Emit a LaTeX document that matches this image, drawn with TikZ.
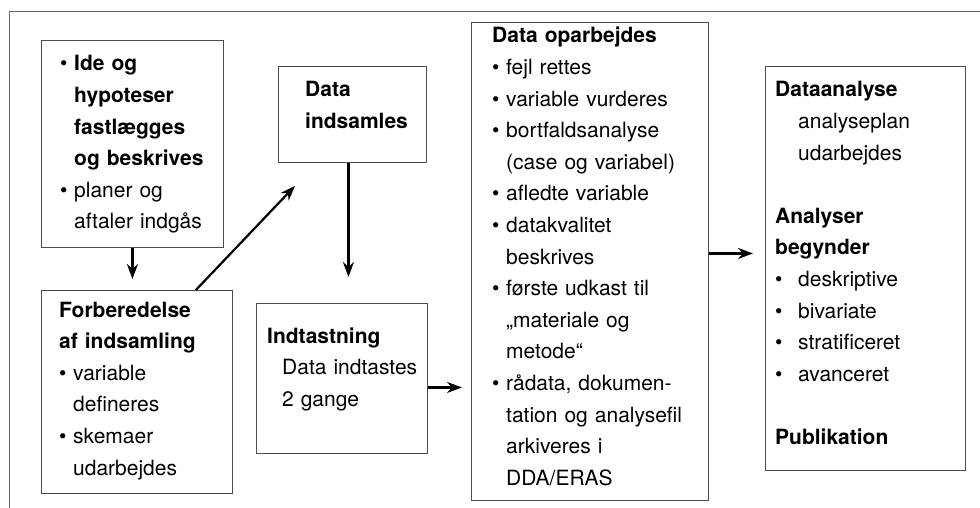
\documentclass[tikz,border=0pt]{standalone}
\usepackage{fontspec}
\setmainfont{TeX Gyre Heros}
\usetikzlibrary{arrows.meta,positioning,calc}

\newcommand{\bul}{\makebox[14pt][l]{•}}
\newcommand{\gap}{\hspace*{14pt}}

\begin{document}
\begin{tikzpicture}[
  x=1pt, y=-1pt,
  box/.style={draw=black!70, line width=0.9pt, anchor=north west, inner sep=0pt},
  txt/.style={anchor=base west, inner sep=0pt, text width=235pt, align=left,
    font=\fontsize{21}{31.6}\selectfont},
  flow/.style={line width=2.2pt, -{Stealth[length=15pt,width=11pt]}}
  ]
  \useasboundingbox (0,0) rectangle (980,508);
  % outer frame
  \draw[black!60, line width=0.9pt] (9,508) -- (9,11) -- (980,11);

  % boxes
  \node[box, minimum width=182pt, minimum height=207pt] (idea) at (41,40) {};
  \node[box, minimum width=191pt, minimum height=203pt] (prep) at (41,290) {};
  \node[box, minimum width=148pt, minimum height=96pt] (collect) at (278,66) {};
  \node[box, minimum width=171pt, minimum height=150pt] (entry) at (256,303) {};
  \node[box, minimum width=237pt, minimum height=478pt] (process) at (471,22) {};
  \node[box, minimum width=200pt, minimum height=404pt] (analysis) at (765,66) {};

  % texts
  \node[txt] (ideaT) at ([shift={(19,31)}]idea.north west)
    {\bul\textbf{Ide og}\\
     \gap\textbf{hypoteser}\\
     \gap\textbf{fastlægges}\\
     \gap\textbf{og beskrives}\\
     \bul planer og\\
     \gap aftaler indgås};
  \node[txt] (prepT) at ([shift={(18,27)}]prep.north west)
    {\textbf{Forberedelse}\\
     \textbf{af indsamling}\\
     \bul variable\\
     \gap defineres\\
     \bul skemaer\\
     \gap udarbejdes};
  \node[txt] (collectT) at ([shift={(27,31)}]collect.north west)
    {\textbf{Data}\\
     \textbf{indsamles}};
  \node[txt] (entryT) at ([shift={(11,40)}]entry.north west)
    {\textbf{Indtastning}\\
     \hspace*{15pt}Data indtastes\\
     \hspace*{15pt}2 gange};
  \node[txt] (processT) at ([shift={(21,21)}]process.north west)
    {\textbf{Data oparbejdes}\\
     \bul fejl rettes\\
     \bul variable vurderes\\
     \bul bortfaldsanalyse\\
     \gap (case og variabel)\\
     \bul afledte variable\\
     \bul datakvalitet\\
     \gap beskrives\\
     \bul første udkast til\\
     \gap „materiale og\\
     \gap metode“\\
     \bul rådata, dokumen-\\
     \gap tation og analysefil\\
     \gap arkiveres i\\
     \gap DDA/ERAS};
  \node[txt] (analysisT) at ([shift={(10,31)}]analysis.north west)
    {\textbf{Dataanalyse}\\
     \hspace*{23pt}analyseplan\\
     \hspace*{23pt}udarbejdes\\[31.6pt]
     \textbf{Analyser}\\
     \textbf{begynder}\\
     \makebox[23pt][l]{•}deskriptive\\
     \makebox[23pt][l]{•}bivariate\\
     \makebox[23pt][l]{•}stratificeret\\
     \makebox[23pt][l]{•}avanceret\\[31.6pt]
     \textbf{Publikation}};

  % connectors
  \coordinate (tipA) at ([shift={(17,23)}]collect.south west);
  \draw[flow, shorten >=11pt] (idea.south) -- (idea.south |- prep.north);
  \draw[flow] ([shift={(-37,0)}]prep.north east) -- (tipA);
  \draw[flow, shorten >=26pt] ([shift={(-4,0)}]collect.south) -- ([shift={(-4,0)}]collect.south |- entry.north);
  \draw[flow, shorten >=9pt] ([shift={(0,9)}]entry.east) -- ([shift={(0,9)}]entry.east -| process.west);
  \draw[flow, shorten >=12pt] ([shift={(0,-8)}]process.east) -- ([shift={(0,-8)}]process.east -| analysis.west);
\end{tikzpicture}
\end{document}
